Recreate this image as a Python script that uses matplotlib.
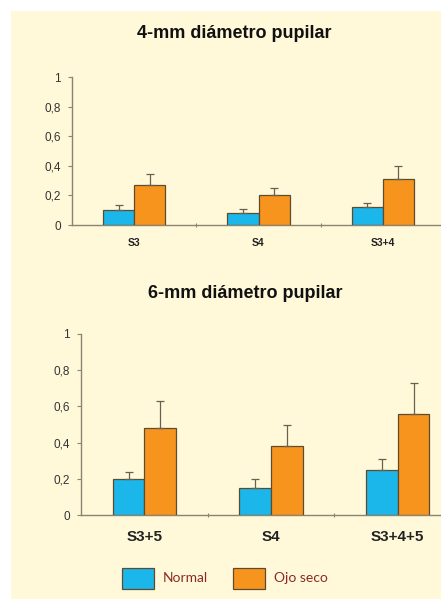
import matplotlib
matplotlib.use("Agg")
import matplotlib.pyplot as plt
from matplotlib.patches import Rectangle
import numpy as np

# Data
cats_4mm = ["S3", "S4", "S3+4"]
normal_4mm = [0.10, 0.08, 0.12]
normal_4mm_err = [0.035, 0.025, 0.03]
seco_4mm = [0.27, 0.20, 0.31]
seco_4mm_err = [0.075, 0.05, 0.09]

cats_6mm = ["S3+5", "S4", "S3+4+5"]
normal_6mm = [0.20, 0.15, 0.25]
normal_6mm_err = [0.04, 0.05, 0.06]
seco_6mm = [0.48, 0.38, 0.56]
seco_6mm_err = [0.15, 0.12, 0.17]

yticks = [0, 0.2, 0.4, 0.6, 0.8, 1]
ytick_labels = ["0", "0,2", "0,4", "0,6", "0,8", "1"]
titles = ["4-mm diámetro pupilar", "6-mm diámetro pupilar"]
legend_labels = ["Normal", "Ojo seco"]

BLUE = "#1BB6EA"
ORANGE = "#F7941E"
EDGE = "#5E4A2E"
SPINE = "#8C8470"
BG = "#FFF9DA"
plt.rcParams["font.family"] = ["Liberation Sans", "DejaVu Sans"]

fig = plt.figure(figsize=(4.41, 5.99), dpi=100)
fig.patch.set_facecolor("white")
fig.patches.append(Rectangle((11/441, 0), 1, 1 - 11/599, transform=fig.transFigure,
                             facecolor=BG, edgecolor="none", zorder=-5))

def draw(ax, cats, n, ne, s, se, tick_fs, xlab_fs, xpad):
    x = np.arange(len(cats))
    w = 0.25
    ax.bar(x - w/2, n, w, color=BLUE, edgecolor=EDGE, linewidth=0.9, zorder=3)
    ax.bar(x + w/2, s, w, color=ORANGE, edgecolor=EDGE, linewidth=0.9, zorder=3)
    ax.errorbar(x - w/2, n, yerr=[np.zeros(len(n)), ne], fmt="none", ecolor="#6A6050",
                elinewidth=0.9, capsize=3, capthick=0.9, zorder=4)
    ax.errorbar(x + w/2, s, yerr=[np.zeros(len(s)), se], fmt="none", ecolor="#6A6050",
                elinewidth=0.9, capsize=3, capthick=0.9, zorder=4)
    ax.set_facecolor("none")
    ax.set_xlim(-0.5, len(cats) - 0.5)
    ax.set_ylim(0, 1)
    ax.set_yticks(yticks)
    ax.set_yticklabels(ytick_labels, fontsize=tick_fs, color="#333333")
    ax.set_xticks(x)
    ax.set_xticklabels(cats, fontsize=xlab_fs, fontweight="bold", color="#222222")
    ax.tick_params(axis="x", length=0, pad=xpad)
    ax.set_xticks(np.arange(len(cats)) + 0.5, minor=True)
    ax.tick_params(axis="x", which="minor", length=3, direction="inout", color=SPINE, width=0.8)
    ax.tick_params(axis="y", length=3, color=SPINE, width=0.8, pad=5)
    for sp in ["top", "right"]:
        ax.spines[sp].set_visible(False)
    for sp in ["left", "bottom"]:
        ax.spines[sp].set_color(SPINE)
        ax.spines[sp].set_linewidth(1.0)

ax1 = fig.add_axes([72/441, 1 - 225/599, 373/441, 148/599])
draw(ax1, cats_4mm, normal_4mm, normal_4mm_err, seco_4mm, seco_4mm_err, 8.5, 7.5, 9)
ax2 = fig.add_axes([81/441, 1 - 515/599, 380/441, 181/599])
draw(ax2, cats_6mm, normal_6mm, normal_6mm_err, seco_6mm, seco_6mm_err, 8.5, 11, 11)

fig.text(234/441, 1 - 33/599, titles[0], ha="center", va="center",
         fontsize=13, fontweight="bold", color="#111111")
fig.text(245/441, 1 - 293/599, titles[1], ha="center", va="center",
         fontsize=13, fontweight="bold", color="#111111")

# Legend
for i, (lab, col) in enumerate(zip(legend_labels, [BLUE, ORANGE])):
    x0 = [122, 233][i]
    fig.patches.append(Rectangle((x0/441, 1 - 589/599), 32/441, 21/599, transform=fig.transFigure,
                                 facecolor=col, edgecolor=EDGE, linewidth=0.9, zorder=3))
    fig.text((x0 + 41)/441, 1 - 578/599, lab, ha="left", va="center", fontsize=10,
             color="#8B2A22", family="Lato")

fig.savefig("out.png", dpi=100)
